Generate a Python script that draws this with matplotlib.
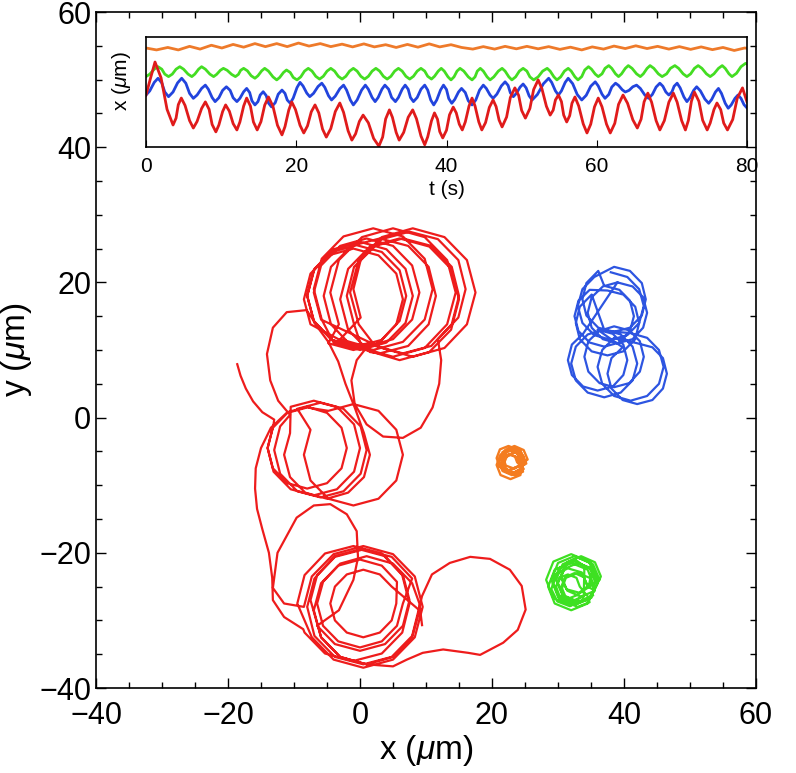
import numpy as np
import matplotlib.pyplot as plt
from matplotlib.ticker import MultipleLocator

plt.rcParams['font.family'] = ['Liberation Sans', 'DejaVu Sans']
plt.rcParams['mathtext.fontset'] = 'custom'
plt.rcParams['mathtext.rm'] = 'Liberation Sans'
plt.rcParams['mathtext.it'] = 'Liberation Sans:italic'

# ---- trajectories (x, y) in um ----
# red cell: long wandering path made of loops
red_tail = [(-18.6, 7.9), (-18.1, 6.2), (-17.3, 4.3), (-16.2, 2.4), (-14.8, 0.8), (-13.0, -0.3)]
red_middle_1 = [(-13.1, -1.0), (-14.0, -4.5), (-13.1, -8.0), (-10.5, -10.6), (-7.0, -11.5), (-3.5, -10.6),
                (-0.9, -8.0), (0.0, -4.5), (-0.9, -1.0), (-3.5, 1.6), (-7.0, 2.5), (-10.5, 1.6),
                (-10.6, -2.3), (-11.5, -5.5), (-10.6, -8.8), (-8.3, -11.1), (-5.0, -12.0), (-1.8, -11.1),
                (0.6, -8.8), (1.5, -5.5), (0.6, -2.3), (-0.8, 1.5), (-2.2, 5.0), (-3.3, 8.3), (-4.8, 11.2)]
red_top_1 = [(-6.9, 14.0), (-8.0, 18.0), (-6.9, 22.0), (-4.0, 24.9), (0.0, 26.0), (4.0, 24.9),
             (6.9, 22.0), (8.0, 18.0), (6.9, 14.0), (4.0, 11.1), (0.0, 10.0), (-4.0, 11.1),
             (-5.8, 14.5), (-7.0, 19.0), (-5.8, 23.5), (-2.5, 26.8), (2.0, 28.0), (6.5, 26.8),
             (9.8, 23.5), (11.0, 19.0), (9.8, 14.5), (6.5, 11.2), (2.0, 10.0), (-2.5, 11.2),
             (-7.5, 13.8), (-8.5, 17.5), (-7.5, 21.3), (-4.8, 24.0), (-1.0, 25.0), (2.8, 24.0),
             (5.5, 21.3), (6.5, 17.5), (5.5, 13.8), (2.8, 11.0), (-1.0, 10.0), (-4.8, 11.0),
             (-3.2, 13.8), (-4.5, 18.5), (-3.2, 23.3), (0.3, 26.7), (5.0, 28.0), (9.8, 26.7),
             (13.2, 23.3), (14.5, 18.5), (13.2, 13.8), (9.8, 10.3), (5.0, 9.0), (0.3, 10.3),
             (-0.9, 13.8), (-2.0, 18.0), (-0.9, 22.3), (2.3, 25.4), (6.5, 26.5), (10.8, 25.4),
             (13.9, 22.3), (15.0, 18.0), (13.9, 13.8), (10.8, 10.6), (6.5, 9.5), (2.3, 10.6),
             (-0.2, 13.8), (-1.5, 18.5), (-0.2, 23.3), (3.3, 26.7), (8.0, 28.0), (12.8, 26.7),
             (16.2, 23.3), (17.5, 18.5), (16.2, 13.8), (12.8, 10.3), (8.0, 9.0), (3.3, 10.3),
             (-5.9, 14.5), (-7.0, 18.5), (-5.9, 22.5), (-3.0, 25.4), (1.0, 26.5), (5.0, 25.4),
             (7.9, 22.5), (9.0, 18.5), (7.9, 14.5), (5.0, 11.6), (1.0, 10.5), (-3.0, 11.6),
             (0.1, 14.8), (-1.0, 19.0), (0.1, 23.3), (3.3, 26.4), (7.5, 27.5), (11.8, 26.4),
             (14.9, 23.3), (16.0, 19.0), (14.9, 14.8), (11.8, 11.6)]
red_right_loop = [(12.3, 8.5), (12.0, 5.0), (11.0, 1.5), (9.2, -1.5), (6.5, -3.0), (3.5, -2.8),
                  (1.0, -1.0), (-0.8, 2.0), (-1.3, 5.5), (-0.5, 8.5), (1.5, 11.0)]
red_top_2 = [(-1.3, 10.6), (-4.4, 13.8), (-5.5, 18.0), (-4.4, 22.3), (-1.3, 25.4), (3.0, 26.5),
             (7.3, 25.4), (10.4, 22.3), (11.5, 18.0), (10.4, 13.8), (7.3, 10.6), (3.0, 9.5),
             (1.5, 9.7), (-1.8, 13.0), (-3.0, 17.5), (-1.8, 22.0), (1.5, 25.3), (6.0, 26.5),
             (10.5, 25.3), (13.8, 22.0), (15.0, 17.5), (13.8, 13.0), (10.5, 9.7), (6.0, 8.5),
             (-4.3, 11.5), (-7.0, 14.3), (-8.0, 18.0), (-7.0, 21.8), (-4.3, 24.5), (-0.5, 25.5),
             (3.3, 24.5), (6.0, 21.8), (7.0, 18.0), (6.0, 14.3), (3.3, 11.5), (-0.5, 10.5),
             (-4.3, 11.5), (-7.0, 14.3)]
red_left_loop = [(-8.1, 15.9), (-11.1, 15.6), (-13.2, 13.3), (-14.1, 9.4), (-13.6, 5.5), (-12.4, 2.5),
                 (-10.6, 0.4)]
red_middle_2 = [(-12.1, -1.3), (-13.0, -4.8), (-12.1, -8.3), (-9.5, -10.9), (-6.0, -11.8), (-2.5, -10.9),
                (0.1, -8.3), (1.0, -4.8), (0.1, -1.3), (-2.5, 1.3), (-6.0, 2.2), (-9.5, 1.3),
                (-7.5, -1.8), (-8.5, -5.5), (-7.5, -9.3), (-4.8, -12.0), (-1.0, -13.0), (2.8, -12.0),
                (5.5, -9.3), (6.5, -5.5), (5.5, -1.8), (2.8, 1.0), (-1.0, 2.0), (-4.8, 1.0),
                (-8.0, 1.5), (-11.0, 0.7), (-13.2, -1.5), (-14.0, -4.5), (-13.2, -7.5), (-11.0, -9.7),
                (-8.0, -10.5), (-5.0, -9.7), (-2.8, -7.5), (-2.0, -4.5), (-2.8, -1.5), (-5.0, 0.7),
                (-8.0, 1.6), (-11.0, 0.8), (-13.5, -1.5)]
red_spine = [(-15.0, -4.5), (-15.8, -7.5), (-15.9, -10.5), (-15.6, -13.5), (-14.8, -16.5), (-13.8, -20.0),
             (-13.3, -23.7), (-13.2, -27.0), (-11.5, -29.5), (-8.6, -31.3)]
red_bottom_1 = [(-8.4, -31.8), (-5.3, -34.9), (-1.0, -36.0), (3.3, -34.9), (6.4, -31.8), (7.5, -27.5),
                (6.4, -23.3), (3.3, -20.1), (-1.0, -19.0), (-5.3, -20.1), (-8.4, -23.3), (-9.5, -27.5),
                (-7.3, -32.5), (-4.0, -35.8), (0.5, -37.0), (5.0, -35.8), (8.3, -32.5), (9.5, -28.0),
                (8.3, -23.5), (5.0, -20.2), (0.5, -19.0), (-4.0, -20.2), (-7.3, -23.5), (-8.5, -28.0),
                (-11.5, -27.5), (-13.2, -25.2), (-12.5, -20.0), (-9.6, -14.8), (-7.0, -13.0), (-4.5, -12.8),
                (-2.0, -14.3), (-0.5, -16.8), (-0.3, -20.7), (-1.0, -24.0), (-3.2, -28.5),
                (-6.5, -30.8), (-3.8, -33.5), (0.0, -34.5), (3.8, -33.5), (6.5, -30.8), (7.5, -27.0),
                (6.5, -23.3), (3.8, -20.5), (0.0, -19.5), (-3.8, -20.5), (-6.5, -23.3), (-7.5, -27.0),
                (-5.9, -32.5), (-3.0, -35.4), (1.0, -36.5)]
red_big_loop = [(5.0, -36.8), (7.1, -35.8), (9.5, -34.8), (12.6, -34.3), (16.4, -34.8), (18.2, -35.1),
                (21.7, -33.3), (23.9, -31.4), (25.1, -28.4), (24.5, -24.9), (22.7, -22.5), (19.7, -20.9),
                (16.7, -20.6), (13.6, -21.5), (10.9, -23.2), (9.4, -26.4)]
red_bottom_2 = [(9.0, -28.0), (7.9, -32.3), (4.8, -35.4), (0.5, -36.5), (-3.8, -35.4), (-6.9, -32.3),
                (-8.0, -28.0), (-6.9, -23.8), (-3.8, -20.6), (0.5, -19.5), (4.8, -20.6), (7.9, -23.8),
                (6.5, -27.5), (5.6, -30.8), (3.3, -33.1), (0.0, -34.0), (-3.3, -33.1), (-5.6, -30.8),
                (-6.5, -27.5), (-5.6, -24.3), (-3.3, -21.9), (0.0, -21.0), (3.3, -21.9), (5.6, -24.3),
                (5.5, -27.5), (4.8, -30.0), (3.0, -31.8), (0.5, -32.5), (-2.0, -31.8), (-3.8, -30.0),
                (-4.5, -27.5), (-3.8, -25.0), (-2.0, -23.2), (0.5, -22.5), (3.0, -23.2), (4.8, -25.0),
                (9.0, -28.5), (7.9, -32.5), (5.0, -35.4), (1.0, -36.5), (-3.0, -35.4), (-5.9, -32.5),
                (-7.0, -28.5), (-5.9, -24.5), (-3.0, -21.6), (1.0, -20.5), (5.0, -21.6), (7.9, -24.5),
                (9.0, -27.5), (9.4, -30.7)]

# blue cell: two stacked groups of loops
blue_path = [(38.0, 21.5), (40.5, 20.8), (42.3, 19.0), (43.0, 16.5), (42.3, 14.0), (40.5, 12.2), (38.0, 11.5),
             (35.5, 12.2), (33.7, 14.0), (33.0, 16.5), (33.7, 19.0), (35.5, 20.8),
             (38.5, 22.3), (40.9, 21.7), (42.7, 19.9), (43.3, 17.5), (42.7, 15.1), (40.9, 13.3), (38.5, 12.7),
             (36.1, 13.3), (34.3, 15.1), (33.7, 17.5), (34.3, 19.9), (36.1, 21.7),
             (37.0, 19.5), (39.3, 18.9), (40.9, 17.3), (41.5, 15.0), (40.9, 12.8), (39.3, 11.1), (37.0, 10.5),
             (34.8, 11.1), (33.1, 12.8), (32.5, 15.0), (33.1, 17.3), (34.8, 18.9),
             (37.5, 18.8), (39.9, 18.2), (41.7, 16.4), (42.3, 14.0), (41.7, 11.6), (39.9, 9.8), (37.5, 9.2),
             (35.1, 9.8), (33.3, 11.6), (32.7, 14.0), (33.3, 16.4), (35.1, 18.2),
             (37.0, 13.0), (39.5, 12.3), (41.3, 10.5), (42.0, 8.0), (41.3, 5.5), (39.5, 3.7), (37.0, 3.0),
             (34.5, 3.7), (32.7, 5.5), (32.0, 8.0), (32.7, 10.5), (34.5, 12.3),
             (38.5, 13.5), (40.8, 12.9), (42.4, 11.3), (43.0, 9.0), (42.4, 6.8), (40.8, 5.1), (38.5, 4.5),
             (36.3, 5.1), (34.6, 6.8), (34.0, 9.0), (34.6, 11.3), (36.3, 12.9),
             (41.0, 12.5), (43.5, 11.8), (45.3, 10.0), (46.0, 7.5), (45.3, 5.0), (43.5, 3.2), (41.0, 2.5),
             (38.5, 3.2), (36.7, 5.0), (36.0, 7.5), (36.7, 10.0), (38.5, 11.8),
             (42.0, 11.0), (44.3, 10.4), (45.9, 8.8), (46.5, 6.5), (45.9, 4.3), (44.3, 2.6), (42.0, 2.0),
             (39.8, 2.6), (38.1, 4.3), (37.5, 6.5), (38.1, 8.8), (39.8, 10.4),
             (36.0, 13.0), (38.3, 12.4), (39.9, 10.8), (40.5, 8.5), (39.9, 6.3), (38.3, 4.6), (36.0, 4.0),
             (33.8, 4.6), (32.1, 6.3), (31.5, 8.5), (32.1, 10.8), (33.8, 12.4),
             (39.0, 20.0), (41.3, 19.4), (42.9, 17.8), (43.5, 15.5), (42.9, 13.3), (41.3, 11.6), (39.0, 11.0),
             (36.8, 11.6), (35.1, 13.3), (34.5, 15.5), (35.1, 17.8), (36.8, 19.4), (39.0, 20.0)]

# green cell: tight scribble
green_path = [(36.0, -24.0), (35.0, -21.5), (32.5, -20.5), (30.0, -21.5), (29.0, -24.0), (30.0, -26.5), (32.5, -27.5), (35.0, -26.5),
              (36.0, -24.5), (35.1, -22.4), (33.0, -21.5), (30.9, -22.4), (30.0, -24.5), (30.9, -26.6), (33.0, -27.5), (35.1, -26.6),
              (35.5, -25.0), (34.5, -22.5), (32.0, -21.5), (29.5, -22.5), (28.5, -25.0), (29.5, -27.5), (32.0, -28.5), (34.5, -27.5),
              (36.5, -23.5), (35.6, -21.4), (33.5, -20.5), (31.4, -21.4), (30.5, -23.5), (31.4, -25.6), (33.5, -26.5), (35.6, -25.6),
              (34.5, -25.0), (33.9, -23.6), (32.5, -23.0), (31.1, -23.6), (30.5, -25.0), (31.1, -26.4), (32.5, -27.0), (33.9, -26.4),
              (34.0, -22.0), (32.6, -21.0), (31.0, -21.8), (30.4, -23.6), (31.3, -25.4), (33.2, -25.9), (34.7, -24.8), (35.0, -23.2),
              (35.8, -24.0), (34.7, -21.3), (32.0, -20.2), (29.3, -21.3), (28.2, -24.0), (29.3, -26.7), (32.0, -27.8), (34.7, -26.7),
              (35.5, -25.5), (34.8, -23.7), (33.0, -23.0), (31.2, -23.7), (30.5, -25.5), (31.2, -27.3), (33.0, -28.0), (34.8, -27.3),
              (33.5, -26.5), (31.8, -27.9), (29.9, -27.2), (29.0, -25.4), (29.6, -23.2), (31.5, -22.3), (33.6, -22.9), (34.4, -24.7),
              (35.7, -24.5), (34.8, -22.2), (32.5, -21.3), (30.2, -22.2), (29.3, -24.5), (30.2, -26.8), (32.5, -27.7), (34.8, -26.8),
              (33.3, -25.0), (32.8, -23.7), (31.5, -23.2), (30.2, -23.7), (29.7, -25.0), (30.2, -26.3), (31.5, -26.8), (32.8, -26.3),
              (36.3, -24.0), (35.3, -21.7), (33.0, -20.7), (30.7, -21.7), (29.7, -24.0), (30.7, -26.3), (33.0, -27.3), (35.3, -26.3)]

# orange cell: almost stuck
orange_path = [(25.0, -6.5), (24.4, -5.1), (23.0, -4.5), (21.6, -5.1), (21.0, -6.5), (21.6, -7.9), (23.0, -8.5), (24.4, -7.9),
               (24.3, -6.0), (23.8, -4.7), (22.5, -4.2), (21.2, -4.7), (20.7, -6.0), (21.2, -7.3), (22.5, -7.8), (23.8, -7.3),
               (25.2, -6.8), (24.7, -5.6), (23.5, -5.1), (22.3, -5.6), (21.8, -6.8), (22.3, -8.0), (23.5, -8.5), (24.7, -8.0),
               (24.0, -5.2), (22.6, -4.6), (21.5, -5.8), (21.8, -7.6), (23.2, -8.2), (24.6, -7.4), (24.8, -5.9), (23.6, -5.0),
               (24.9, -7.0), (24.3, -5.5), (22.8, -4.9), (21.3, -5.5), (20.7, -7.0), (21.3, -8.5), (22.8, -9.1), (24.3, -8.5),
               (24.7, -6.0), (24.3, -4.9), (23.2, -4.5), (22.1, -4.9), (21.7, -6.0), (22.1, -7.1), (23.2, -7.5), (24.3, -7.1),
               (23.8, -6.6), (23.5, -5.8), (22.6, -5.4), (21.8, -5.8), (21.4, -6.6), (21.8, -7.5), (22.6, -7.8), (23.5, -7.5),
               (25.4, -6.2), (24.8, -4.8), (23.4, -4.2), (22.0, -4.8), (21.4, -6.2), (22.0, -7.6), (23.4, -8.2), (24.8, -7.6),
               (24.3, -6.9), (23.9, -5.9), (22.9, -5.5), (21.9, -5.9), (21.5, -6.9), (21.9, -7.9), (22.9, -8.3), (23.9, -7.9)]

# ---- inset: x(t) traces (t in s, x in um, offset per cell) ----
red_xt = [(0, 18.9), (0.6, 25.0), (1.2, 30.9), (2.0, 25.2), (2.8, 13.7), (3.6, 8.0), (4.0, 10.5), (4.3, 15.4), (4.7, 17.8),
          (5.2, 15.1), (5.8, 9.6), (6.3, 6.9), (6.8, 9.3), (7.4, 14.0), (7.9, 16.4), (8.4, 13.7), (8.8, 8.2), (9.3, 5.5),
          (9.7, 8.0), (10.2, 12.9), (10.6, 15.3), (11.1, 13.0), (11.6, 8.5), (12.1, 6.2), (12.5, 9.1), (13.0, 14.9),
          (13.4, 17.8), (13.9, 14.9), (14.3, 9.1), (14.8, 6.2), (15.3, 9.2), (15.8, 15.2), (16.3, 18.2), (16.9, 14.8),
          (17.5, 7.9), (18.1, 4.4), (18.5, 7.4), (19.0, 13.4), (19.4, 16.4), (19.9, 13.6), (20.5, 7.9), (21.0, 5.1),
          (21.5, 7.7), (22.0, 12.8), (22.5, 15.3), (23.0, 12.4), (23.5, 6.5), (24.0, 3.6), (24.6, 6.7), (25.2, 12.9),
          (25.8, 16.0), (26.3, 12.6), (26.9, 5.9), (27.4, 2.5), (27.9, 4.8), (28.4, 9.3), (28.9, 11.6), (29.6, 8.8),
          (30.3, 3.1), (31.0, 0.3), (31.5, 3.6), (31.9, 10.2), (32.4, 13.5), (32.8, 10.8), (33.3, 5.3), (33.7, 2.5),
          (34.3, 5.3), (34.9, 10.8), (35.5, 13.5), (36.0, 10.3), (36.6, 4.0), (37.1, 0.8), (37.5, 3.7), (38.0, 9.5),
          (38.4, 12.4), (38.8, 10.1), (39.1, 5.6), (39.5, 3.3), (40.0, 6.1), (40.4, 11.7), (40.9, 14.5), (41.3, 12.4),
          (41.7, 8.3), (42.1, 6.2), (42.5, 9.1), (43.0, 14.9), (43.4, 17.8), (43.8, 14.9), (44.3, 9.1), (44.7, 6.2),
          (45.2, 8.9), (45.7, 14.4), (46.2, 17.1), (46.6, 14.7), (47.0, 9.8), (47.4, 7.3), (48.0, 10.9), (48.5, 18.0),
          (49.1, 21.5), (49.6, 18.8), (50.0, 13.3), (50.5, 10.5), (51.1, 14.0), (51.6, 20.9), (52.2, 24.4), (52.7, 21.2),
          (53.3, 14.8), (53.8, 11.6), (54.2, 13.4), (54.5, 17.1), (54.9, 18.9), (55.3, 16.5), (55.6, 11.6), (56.0, 9.1),
          (56.4, 11.4), (56.7, 15.9), (57.1, 18.2), (57.6, 14.9), (58.2, 8.4), (58.7, 5.1), (59.2, 8.3), (59.7, 14.6),
          (60.2, 17.8), (60.7, 14.6), (61.3, 8.3), (61.8, 5.1), (62.4, 8.6), (62.9, 15.5), (63.5, 18.9), (64.1, 15.9),
          (64.8, 9.9), (65.4, 6.9), (65.9, 10.1), (66.3, 16.4), (66.8, 19.6), (67.3, 16.3), (67.9, 9.6), (68.4, 6.2),
          (69.0, 9.6), (69.6, 16.3), (70.2, 19.6), (70.7, 16.3), (71.3, 9.6), (71.8, 6.2), (72.2, 9.7), (72.6, 16.6),
          (73.0, 20.0), (73.6, 16.6), (74.1, 9.7), (74.7, 6.2), (75.1, 8.7), (75.6, 13.6), (76.0, 16.0), (76.5, 13.6),
          (76.9, 8.7), (77.4, 6.2), (78.1, 10.0), (78.7, 17.7), (79.4, 21.5), (80.0, 16.4)]

blue_xt = [(0, 18.9), (0.5, 20.4), (1.1, 23.5), (1.6, 25.0), (2.1, 23.3), (2.5, 20.0), (3.0, 18.3), (3.6, 20.0), (4.2, 23.3),
           (4.75, 25.0), (5.3, 23.2), (5.8, 19.5), (6.3, 17.7), (6.8, 18.9), (7.4, 21.3), (7.9, 22.5), (8.3, 21.0),
           (8.8, 18.0), (9.2, 16.5), (9.7, 17.9), (10.2, 20.6), (10.7, 21.9), (11.2, 20.6), (11.6, 17.9), (12.1, 16.5),
           (12.5, 17.7), (13.0, 20.1), (13.4, 21.3), (13.8, 19.8), (14.1, 16.8), (14.5, 15.3), (14.9, 16.5), (15.2, 18.9),
           (15.6, 20.1), (16.0, 18.7), (16.3, 16.0), (16.7, 14.6), (17.2, 16.1), (17.6, 19.2), (18.1, 20.7), (18.5, 19.5),
           (18.8, 17.1), (19.2, 15.9), (19.6, 17.8), (20.1, 21.6), (20.5, 23.5), (20.9, 22.2), (21.4, 19.6), (21.8, 18.3),
           (22.3, 19.5), (22.9, 22.0), (23.4, 23.2), (23.8, 21.7), (24.3, 18.6), (24.7, 17.1), (25.2, 18.5), (25.8, 21.2),
           (26.3, 22.5), (26.7, 20.7), (27.2, 17.1), (27.6, 15.3), (28.1, 17.1), (28.7, 20.7), (29.2, 22.5), (29.6, 21.0),
           (30.1, 18.0), (30.5, 16.5), (30.9, 18.0), (31.4, 21.0), (31.8, 22.5), (32.3, 21.0), (32.7, 18.0), (33.2, 16.5),
           (33.6, 18.0), (34.1, 21.0), (34.5, 22.5), (34.9, 21.0), (35.2, 18.0), (35.6, 16.5), (36.1, 18.0), (36.6, 21.0),
           (37.1, 22.5), (37.5, 20.7), (37.9, 17.1), (38.3, 15.3), (38.7, 17.1), (39.2, 20.7), (39.6, 22.5), (40.0, 20.9),
           (40.3, 17.6), (40.7, 15.9), (41.1, 17.3), (41.6, 20.0), (42.0, 21.3), (42.5, 19.8), (42.9, 16.8), (43.4, 15.3),
           (43.9, 17.1), (44.4, 20.7), (44.9, 22.5), (45.3, 21.3), (45.8, 18.9), (46.2, 17.7), (46.7, 19.2), (47.3, 22.2),
           (47.8, 23.7), (48.2, 22.4), (48.5, 19.7), (48.9, 18.3), (49.3, 19.5), (49.8, 21.8), (50.2, 22.9), (50.6, 21.5),
           (51.0, 18.6), (51.4, 17.1), (52.1, 19.1), (52.9, 23.0), (53.6, 25.0), (54.0, 23.5), (54.5, 20.4), (54.9, 18.9),
           (55.3, 20.4), (55.8, 23.5), (56.2, 25.0), (56.8, 23.0), (57.4, 19.1), (58.0, 17.1), (58.6, 18.8), (59.2, 22.1),
           (59.8, 23.7), (60.2, 22.2), (60.7, 19.2), (61.1, 17.7), (61.6, 19.1), (62.0, 21.8), (62.5, 23.2), (62.9, 22.4),
           (63.4, 20.8), (63.8, 20.0), (64.3, 20.6), (64.8, 21.9), (65.3, 22.5), (65.8, 21.3), (66.4, 18.9), (66.9, 17.7),
           (67.4, 19.1), (67.9, 21.8), (68.4, 23.2), (68.8, 22.1), (69.2, 20.0), (69.6, 18.9), (70.0, 20.0), (70.3, 22.1),
           (70.7, 23.2), (71.1, 21.5), (71.6, 18.2), (72.0, 16.5), (72.4, 17.9), (72.9, 20.6), (73.3, 21.9), (73.8, 20.4),
           (74.4, 17.4), (74.9, 15.9), (75.3, 17.3), (75.8, 20.0), (76.2, 21.3), (76.6, 19.5), (77.1, 15.9), (77.5, 14.1),
           (77.9, 15.3), (78.4, 17.7), (78.8, 18.9), (79.2, 17.7), (79.6, 15.4), (80.0, 14.2)]

green_xt = [(0, 25.6), (0.5, 26.5), (1.1, 28.3), (1.6, 29.2), (2.1, 28.3), (2.5, 26.5), (3.0, 25.6), (3.5, 26.5), (4.0, 28.3),
            (4.5, 29.2), (5.0, 28.3), (5.6, 26.5), (6.1, 25.6), (6.5, 26.5), (7.0, 28.3), (7.4, 29.2), (7.9, 28.3),
            (8.5, 26.5), (9.0, 25.6), (9.4, 26.4), (9.9, 27.9), (10.3, 28.6), (10.8, 27.9), (11.4, 26.4), (11.9, 25.6),
            (12.3, 26.4), (12.6, 27.9), (13.0, 28.6), (13.5, 27.7), (14.0, 25.9), (14.5, 25.0), (14.9, 25.9), (15.4, 27.7),
            (15.8, 28.6), (16.3, 27.6), (16.9, 25.5), (17.4, 24.4), (17.8, 25.3), (18.3, 27.1), (18.7, 28.0), (19.2, 27.1),
            (19.6, 25.3), (20.1, 24.4), (20.6, 25.5), (21.1, 27.6), (21.6, 28.6), (22.1, 27.6), (22.6, 25.7), (23.1, 24.7),
            (23.6, 25.7), (24.1, 27.6), (24.6, 28.6), (25.1, 27.6), (25.6, 25.7), (26.1, 24.7), (26.6, 25.7), (27.1, 27.6),
            (27.6, 28.6), (28.1, 27.6), (28.6, 25.7), (29.1, 24.7), (29.6, 25.7), (30.1, 27.6), (30.6, 28.6), (31.1, 27.6),
            (31.6, 25.7), (32.1, 24.7), (32.6, 25.7), (33.1, 27.6), (33.6, 28.6), (34.1, 27.6), (34.6, 25.7), (35.1, 24.7),
            (35.6, 25.7), (36.1, 27.6), (36.6, 28.6), (37.1, 27.6), (37.5, 25.7), (38.0, 24.7), (38.4, 25.7), (38.9, 27.6),
            (39.3, 28.6), (39.7, 27.6), (40.2, 25.5), (40.6, 24.4), (41.0, 25.5), (41.4, 27.6), (41.8, 28.6), (42.3, 27.6),
            (42.9, 25.5), (43.4, 24.4), (43.8, 25.5), (44.1, 27.6), (44.5, 28.6), (44.9, 27.6), (45.4, 25.5), (45.8, 24.4),
            (46.3, 25.5), (46.9, 27.6), (47.4, 28.6), (47.8, 27.6), (48.3, 25.5), (48.7, 24.4), (49.2, 25.5), (49.7, 27.6),
            (50.2, 28.6), (50.7, 27.6), (51.1, 25.5), (51.6, 24.4), (52.2, 25.5), (52.8, 27.6), (53.4, 28.6), (53.8, 27.6),
            (54.3, 25.5), (54.7, 24.4), (55.2, 25.5), (55.7, 27.6), (56.2, 28.6), (56.6, 27.6), (57.1, 25.5), (57.5, 24.4),
            (58.0, 25.6), (58.4, 28.0), (58.9, 29.2), (59.3, 28.3), (59.8, 26.5), (60.2, 25.6), (60.7, 26.6), (61.1, 28.6),
            (61.6, 29.6), (62.0, 28.6), (62.5, 26.6), (62.9, 25.6), (63.3, 26.6), (63.8, 28.6), (64.2, 29.6), (64.7, 28.6),
            (65.3, 26.6), (65.8, 25.6), (66.2, 26.6), (66.7, 28.6), (67.1, 29.6), (67.6, 28.6), (68.2, 26.6), (68.7, 25.6),
            (69.3, 26.6), (69.8, 28.6), (70.4, 29.6), (70.9, 28.6), (71.5, 26.6), (72.0, 25.6), (72.5, 26.6), (73.0, 28.6),
            (73.5, 29.6), (74.0, 28.6), (74.6, 26.6), (75.1, 25.6), (75.6, 26.6), (76.2, 28.6), (76.7, 29.6), (77.1, 28.6),
            (77.6, 26.6), (78.0, 25.6), (78.6, 26.8), (79.2, 29.2), (79.8, 30.4), (80.0, 30.2)]

orange_xt = [(0, 36.0), (1.4, 35.3), (2.9, 36.2), (4.3, 35.3), (5.8, 36.6), (7.2, 35.6), (8.7, 37.0), (10.1, 36.0),
             (11.6, 37.3), (13.0, 36.3), (14.5, 37.6), (15.9, 36.5), (17.4, 37.6), (18.8, 36.5), (20.3, 37.8),
             (21.7, 36.7), (23.2, 37.6), (24.6, 36.5), (26.1, 37.4), (27.5, 36.4), (29.0, 37.5), (30.4, 36.4),
             (31.9, 37.2), (33.3, 36.2), (34.8, 37.3), (36.2, 36.3), (37.7, 37.5), (39.1, 36.4), (40.6, 37.2),
             (42.0, 36.2), (43.5, 35.6), (44.9, 36.5), (46.4, 35.6), (47.8, 36.6), (49.3, 35.7), (50.7, 36.6),
             (52.2, 35.7), (53.6, 36.5), (55.1, 35.5), (56.5, 36.3), (58.0, 35.3), (59.4, 36.4), (60.9, 35.6),
             (62.3, 36.7), (63.8, 35.8), (65.2, 36.8), (66.7, 35.8), (68.1, 36.6), (69.6, 35.6), (71.0, 36.5),
             (72.5, 35.5), (73.9, 36.4), (75.4, 35.4), (76.8, 36.2), (78.3, 35.1), (79.7, 36.0), (80.0, 35.9)]

# colors
c_red, c_blue, c_green, c_orange = '#ee1c1c', '#2d55e1', '#3ee022', '#f47c20'

red_path = (red_tail + red_middle_1 + red_top_1 + red_right_loop + red_top_2 + red_left_loop
            + red_middle_2 + red_spine + red_bottom_1 + red_big_loop + red_bottom_2)

fig = plt.figure(figsize=(7.96, 7.73), dpi=100)
ax = fig.add_axes([96 / 796, 85 / 773, 660 / 796, 676 / 773])

for path, col, lw in [(red_path, c_red, 1.6), (blue_path, c_blue, 1.6),
                      (green_path, c_green, 1.6), (orange_path, c_orange, 1.7)]:
    xy = np.array(path)
    ax.plot(xy[:, 0], xy[:, 1], color=col, lw=lw, solid_joinstyle='round')

ax.set_xlim(-40, 60)
ax.set_ylim(-40, 60)
ax.xaxis.set_major_locator(MultipleLocator(20))
ax.yaxis.set_major_locator(MultipleLocator(20))
ax.xaxis.set_minor_locator(MultipleLocator(5))
ax.yaxis.set_minor_locator(MultipleLocator(5))
ax.tick_params(which='both', direction='in', top=True, right=True, width=1)
ax.tick_params(which='major', length=7, labelsize=22)
ax.tick_params(axis='x', which='major', pad=9)
ax.tick_params(which='minor', length=4)
# y tick labels sit a little higher so the two corner labels keep apart
for lab in ax.get_yticklabels():
    lab.set_verticalalignment('center_baseline')
for s in ax.spines.values():
    s.set_linewidth(1.2)
ax.set_xlabel(r'x ($\mathit{\mu}$m)', fontsize=24, labelpad=2)
ax.set_ylabel(r'y ($\mathit{\mu}$m)', fontsize=24, labelpad=4)

# inset
ins = fig.add_axes([146 / 796, 1 - 147 / 773, 601 / 796, 110 / 773])
for series, col in [(orange_xt, '#ee7a2a'), (green_xt, '#44dd22'), (blue_xt, '#2244dd'), (red_xt, '#e01b1b')]:
    tx = np.array(series)
    ins.plot(tx[:, 0], tx[:, 1], color=col, lw=2.0)
ins.set_xlim(0, 80)
ins.set_ylim(0, 40)
ins.xaxis.set_major_locator(MultipleLocator(20))
ins.set_yticks([])
ins.tick_params(axis='x', direction='in', length=5, labelsize=15, pad=7)
for s in ins.spines.values():
    s.set_linewidth(1.2)
ins.set_xlabel('t (s)', fontsize=15, labelpad=3)
ins.set_ylabel(r'x ($\mathit{\mu}$m)', fontsize=15)
ins.yaxis.set_label_coords(-0.022, 0.6)

fig.savefig('out.png', dpi=100)
